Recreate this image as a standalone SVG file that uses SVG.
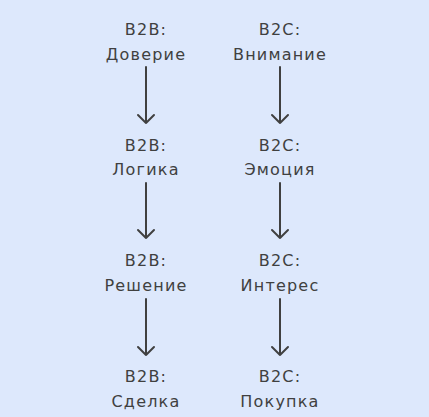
<svg xmlns="http://www.w3.org/2000/svg" width="429" height="417" viewBox="0 0 429 417">
<style>
text{font-family:"DejaVu Sans","Liberation Sans",sans-serif;font-size:16px;fill:#404040;text-anchor:middle;letter-spacing:1.2px}
.c{stroke:#404040;stroke-width:2;fill:none;stroke-linecap:round;stroke-linejoin:round}
</style>
<rect width="429" height="417" fill="#dde8fc"/>
<g id="n1"><text x="146" y="35">B2B:</text><text x="146" y="60">Доверие</text></g>
<g id="n2"><text x="146" y="151">B2B:</text><text x="146" y="175">Логика</text></g>
<g id="n3"><text x="146" y="266">B2B:</text><text x="146" y="291">Решение</text></g>
<g id="n4"><text x="146" y="382">B2B:</text><text x="146" y="407">Сделка</text></g>
<g id="m1"><text x="280" y="35">B2C:</text><text x="280" y="60">Внимание</text></g>
<g id="m2"><text x="280" y="151">B2C:</text><text x="280" y="175">Эмоция</text></g>
<g id="m3"><text x="280" y="266">B2C:</text><text x="280" y="291">Интерес</text></g>
<g id="m4"><text x="280" y="382">B2C:</text><text x="280" y="407">Покупка</text></g>
<g id="connectors" class="c">
<path d="M146 67V123M138 115L146 123L154 115"/>
<path d="M146 183V238M138 230L146 238L154 230"/>
<path d="M146 299V355M138 347L146 355L154 347"/>
<path d="M280 67V123M272 115L280 123L288 115"/>
<path d="M280 183V238M272 230L280 238L288 230"/>
<path d="M280 299V355M272 347L280 355L288 347"/>
</g>
</svg>
